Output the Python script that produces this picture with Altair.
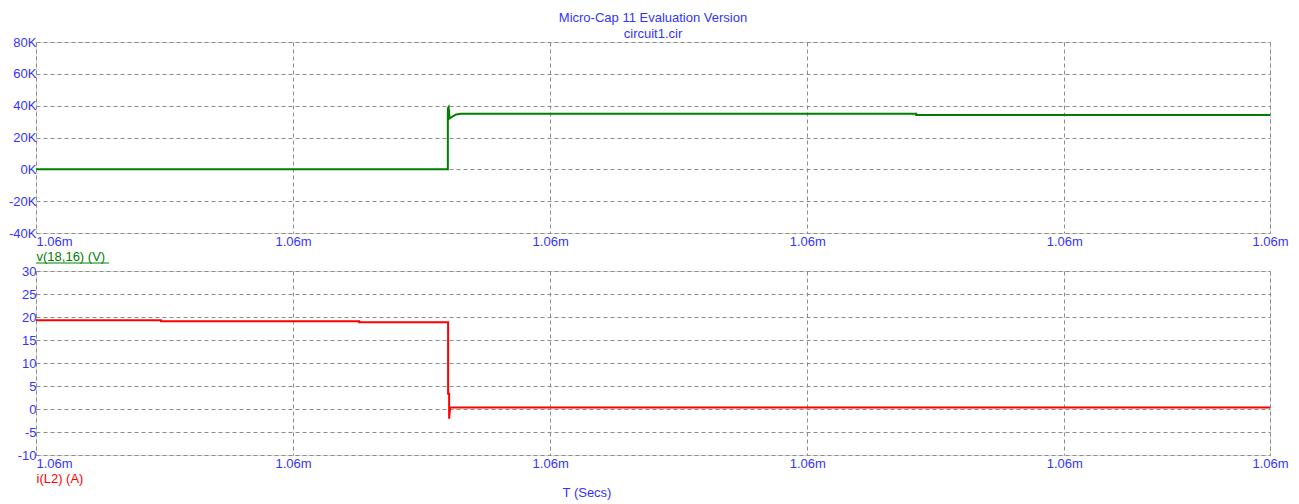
import altair as alt
import pandas as pd

# time axis expressed in grid divisions (all tick labels read 1.06m)
x_ticks = [0, 1, 2, 3, 4, 4.8]
x_label = "1.06m"

# v(18,16) trace
v_t = [0, 1.602, 1.602, 1.605, 1.609, 1.623, 1.634, 1.654, 3.424, 3.424, 4.8]
v_val = [0, 0, 38300, 39100, 32000, 33500, 34500, 34900, 34900, 34100, 34100]

# i(L2) trace
i_t = [0, 0.486, 0.486, 1.257, 1.257, 1.603, 1.603, 1.607, 1.607, 1.611, 1.615, 4.8]
i_val = [19.28, 19.28, 19.07, 19.07, 18.85, 18.85, 3.3, 3.3, -2.1, 0.37, 0.3, 0.3]

v_ticks = [-40000, -20000, 0, 20000, 40000, 60000, 80000]
i_ticks = [-10, -5, 0, 5, 10, 15, 20, 25, 30]

BLUE = "#3333ff"
GREEN = "#008000"
RED = "#ff0000"
GRID = "#8c8c8c"
FONT = "Liberation Sans"

W = 1234
H1 = 191
H2 = 184

dv = pd.DataFrame({"t": v_t, "v": v_val, "k": range(len(v_t))})
di = pd.DataFrame({"t": i_t, "i": i_val, "k": range(len(i_t))})
one = pd.DataFrame({"label": ["T (Secs)"]})

align_cond = {"condition": {"test": "datum.value == 0", "value": "left"}, "value": "center"}

def xaxis(title, color):
    return alt.Axis(
        values=x_ticks, labelExpr=f"'{x_label}'", labelAlign=align_cond,
        labelFlush=False, labelOverlap=False, labelPadding=2,
        labelColor=BLUE, labelFont=FONT, labelFontSize=13,
        ticks=False, domain=False,
        grid=True, gridColor=GRID, gridDash=[4, 3], gridWidth=1,
        title=title, titleColor=color, titleFont=FONT, titleFontSize=13,
        titleFontWeight="normal", titleAnchor="start", titlePadding=2,
    )

def yaxis(values, expr):
    return alt.Axis(
        values=values, labelExpr=expr, labelColor=BLUE, labelFont=FONT,
        labelFontSize=13, labelPadding=0, labelOverlap=False,
        ticks=False, domain=False, title=None,
        grid=True, gridColor=GRID, gridDash=[4, 3], gridWidth=1,
    )

x_scale = alt.Scale(domain=[0, 4.8], nice=False, zero=False)

top_line = alt.Chart(dv).mark_line(color=GREEN, strokeWidth=2, clip=True).encode(
    x=alt.X("t:Q", scale=x_scale, axis=xaxis("v(18,16) (V)", GREEN)),
    y=alt.Y("v:Q", scale=alt.Scale(domain=[-40000, 80000], nice=False),
            axis=yaxis(v_ticks, "(datum.value/1000) + 'K'")),
    order="k:Q",
)
underline = alt.Chart(one).mark_rule(color=GREEN, strokeWidth=1).encode(
    x=alt.value(0), x2=alt.value(73), y=alt.value(H1 + 30)
)
top = alt.layer(top_line, underline).properties(
    width=W, height=H1,
    title=alt.TitleParams(
        text=["Micro-Cap 11 Evaluation Version", "circuit1.cir"],
        color=BLUE, font=FONT, fontSize=13, fontWeight="normal",
        anchor="middle", frame="group", lineHeight=16, offset=-5,
    ),
)

bot_line = alt.Chart(di).mark_line(color=RED, strokeWidth=2, clip=True).encode(
    x=alt.X("t:Q", scale=x_scale, axis=xaxis("i(L2) (A)", RED)),
    y=alt.Y("i:Q", scale=alt.Scale(domain=[-10, 30], nice=False),
            axis=yaxis(i_ticks, "datum.value")),
    order="k:Q",
)
tlabel = alt.Chart(one).mark_text(
    color=BLUE, font=FONT, fontSize=13, align="center", baseline="middle"
).encode(text="label:N", x=alt.value(551), y=alt.value(H2 + 38))
bottom = alt.layer(bot_line, tlabel).properties(width=W, height=H2)

chart = alt.vconcat(top, bottom, spacing=0).properties(
    padding={"left": 0, "top": 3, "right": 0, "bottom": 0}
).configure_view(stroke="#999999", strokeWidth=1.5).configure(background="white")

chart.save("out.html", embed_options={"renderer": "svg", "actions": False})
